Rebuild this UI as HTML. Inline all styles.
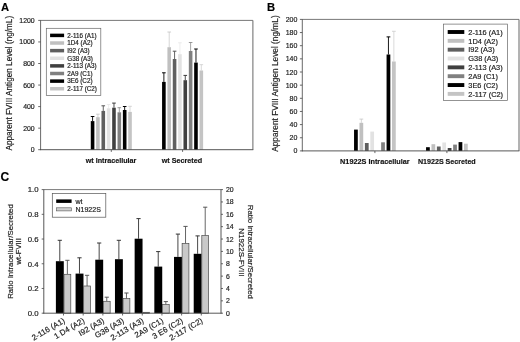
<!DOCTYPE html>
<html lang="en"><head><meta charset="utf-8"><title>Figure</title>
<style>html,body{margin:0;padding:0;background:#fff;}svg{display:block;}text{font-family:'Liberation Sans', Arial, sans-serif;stroke:#222;stroke-width:0.18px;}</style>
</head><body>
<svg width="520" height="342" viewBox="0 0 520 342">
<rect x="0" y="0" width="520" height="342" fill="#ffffff"/>
<defs><filter id="soft" x="0" y="0" width="520" height="342" filterUnits="userSpaceOnUse"><feGaussianBlur stdDeviation="0.25"/></filter></defs>
<g filter="url(#soft)">
<line x1="92.58" y1="116.50" x2="92.58" y2="121.10" stroke="#000000" stroke-width="0.9"/>
<line x1="90.78" y1="116.50" x2="94.38" y2="116.50" stroke="#000000" stroke-width="1.0"/>
<rect x="90.78" y="121.10" width="3.60" height="28.60" fill="#000000"/>
<line x1="97.92" y1="114.20" x2="97.92" y2="117.20" stroke="#c4c4c4" stroke-width="0.7"/>
<line x1="96.12" y1="114.20" x2="99.72" y2="114.20" stroke="#c4c4c4" stroke-width="0.8"/>
<rect x="96.12" y="117.20" width="3.60" height="32.50" fill="#c0c0c0"/>
<line x1="103.28" y1="105.80" x2="103.28" y2="110.90" stroke="#555555" stroke-width="0.9"/>
<line x1="101.48" y1="105.80" x2="105.08" y2="105.80" stroke="#555555" stroke-width="1.0"/>
<rect x="101.48" y="110.90" width="3.60" height="38.80" fill="#5e5e5e"/>
<line x1="108.62" y1="104.50" x2="108.62" y2="108.30" stroke="#e6e6e6" stroke-width="0.7"/>
<line x1="106.83" y1="104.50" x2="110.42" y2="104.50" stroke="#e6e6e6" stroke-width="0.8"/>
<rect x="106.83" y="108.30" width="3.60" height="41.40" fill="#e2e2e2"/>
<line x1="113.97" y1="103.10" x2="113.97" y2="107.70" stroke="#3a3a3a" stroke-width="0.9"/>
<line x1="112.17" y1="103.10" x2="115.77" y2="103.10" stroke="#3a3a3a" stroke-width="1.0"/>
<rect x="112.17" y="107.70" width="3.60" height="42.00" fill="#404040"/>
<line x1="119.32" y1="107.70" x2="119.32" y2="112.30" stroke="#808080" stroke-width="0.7"/>
<line x1="117.52" y1="107.70" x2="121.12" y2="107.70" stroke="#808080" stroke-width="0.8"/>
<rect x="117.52" y="112.30" width="3.60" height="37.40" fill="#808080"/>
<line x1="124.67" y1="106.50" x2="124.67" y2="110.00" stroke="#000000" stroke-width="0.9"/>
<line x1="122.88" y1="106.50" x2="126.47" y2="106.50" stroke="#000000" stroke-width="1.0"/>
<rect x="122.88" y="110.00" width="3.60" height="39.70" fill="#000000"/>
<line x1="130.03" y1="106.30" x2="130.03" y2="111.90" stroke="#cccccc" stroke-width="0.7"/>
<line x1="128.22" y1="106.30" x2="131.83" y2="106.30" stroke="#cccccc" stroke-width="0.8"/>
<rect x="128.22" y="111.90" width="3.60" height="37.80" fill="#c4c4c4"/>
<line x1="163.88" y1="72.80" x2="163.88" y2="81.90" stroke="#000000" stroke-width="0.9"/>
<line x1="162.07" y1="72.80" x2="165.68" y2="72.80" stroke="#000000" stroke-width="1.0"/>
<rect x="162.07" y="81.90" width="3.60" height="67.80" fill="#000000"/>
<line x1="169.22" y1="32.00" x2="169.22" y2="47.20" stroke="#c4c4c4" stroke-width="0.7"/>
<line x1="167.42" y1="32.00" x2="171.03" y2="32.00" stroke="#c4c4c4" stroke-width="0.8"/>
<rect x="167.42" y="47.20" width="3.60" height="102.50" fill="#c0c0c0"/>
<line x1="174.57" y1="51.20" x2="174.57" y2="59.00" stroke="#555555" stroke-width="0.9"/>
<line x1="172.77" y1="51.20" x2="176.38" y2="51.20" stroke="#555555" stroke-width="1.0"/>
<rect x="172.77" y="59.00" width="3.60" height="90.70" fill="#5e5e5e"/>
<line x1="179.92" y1="42.80" x2="179.92" y2="54.20" stroke="#e6e6e6" stroke-width="0.7"/>
<line x1="178.12" y1="42.80" x2="181.72" y2="42.80" stroke="#e6e6e6" stroke-width="0.8"/>
<rect x="178.12" y="54.20" width="3.60" height="95.50" fill="#e2e2e2"/>
<line x1="185.28" y1="75.40" x2="185.28" y2="80.20" stroke="#3a3a3a" stroke-width="0.9"/>
<line x1="183.47" y1="75.40" x2="187.08" y2="75.40" stroke="#3a3a3a" stroke-width="1.0"/>
<rect x="183.47" y="80.20" width="3.60" height="69.50" fill="#404040"/>
<line x1="190.62" y1="42.50" x2="190.62" y2="51.00" stroke="#808080" stroke-width="0.7"/>
<line x1="188.82" y1="42.50" x2="192.43" y2="42.50" stroke="#808080" stroke-width="0.8"/>
<rect x="188.82" y="51.00" width="3.60" height="98.70" fill="#808080"/>
<line x1="195.97" y1="49.00" x2="195.97" y2="62.60" stroke="#000000" stroke-width="0.9"/>
<line x1="194.17" y1="49.00" x2="197.78" y2="49.00" stroke="#000000" stroke-width="1.0"/>
<rect x="194.17" y="62.60" width="3.60" height="87.10" fill="#000000"/>
<line x1="201.32" y1="64.70" x2="201.32" y2="70.50" stroke="#cccccc" stroke-width="0.7"/>
<line x1="199.52" y1="64.70" x2="203.12" y2="64.70" stroke="#cccccc" stroke-width="0.8"/>
<rect x="199.52" y="70.50" width="3.60" height="79.20" fill="#c4c4c4"/>
<line x1="40.60" y1="20.40" x2="252.90" y2="20.40" stroke="#555" stroke-width="0.8"/>
<line x1="252.90" y1="20.40" x2="252.90" y2="149.70" stroke="#666" stroke-width="1.0"/>
<line x1="40.60" y1="20.20" x2="40.60" y2="150.10" stroke="#444" stroke-width="0.8"/>
<line x1="40.20" y1="149.70" x2="253.30" y2="149.70" stroke="#444" stroke-width="0.9"/>
<line x1="38.20" y1="149.70" x2="40.60" y2="149.70" stroke="#444" stroke-width="0.8"/>
<text x="34.70" y="152.18" font-size="6.9" text-anchor="end" fill="#1a1a1a">0</text>
<line x1="38.20" y1="128.15" x2="40.60" y2="128.15" stroke="#444" stroke-width="0.8"/>
<text x="34.70" y="130.63" font-size="6.9" text-anchor="end" fill="#1a1a1a">200</text>
<line x1="38.20" y1="106.60" x2="40.60" y2="106.60" stroke="#444" stroke-width="0.8"/>
<text x="34.70" y="109.08" font-size="6.9" text-anchor="end" fill="#1a1a1a">400</text>
<line x1="38.20" y1="85.05" x2="40.60" y2="85.05" stroke="#444" stroke-width="0.8"/>
<text x="34.70" y="87.53" font-size="6.9" text-anchor="end" fill="#1a1a1a">600</text>
<line x1="38.20" y1="63.50" x2="40.60" y2="63.50" stroke="#444" stroke-width="0.8"/>
<text x="34.70" y="65.98" font-size="6.9" text-anchor="end" fill="#1a1a1a">800</text>
<line x1="38.20" y1="41.95" x2="40.60" y2="41.95" stroke="#444" stroke-width="0.8"/>
<text x="34.70" y="44.43" font-size="6.9" text-anchor="end" fill="#1a1a1a">1000</text>
<line x1="38.20" y1="20.40" x2="40.60" y2="20.40" stroke="#444" stroke-width="0.8"/>
<text x="34.70" y="22.88" font-size="6.9" text-anchor="end" fill="#1a1a1a">1200</text>
<line x1="111.30" y1="149.70" x2="111.30" y2="151.90" stroke="#444" stroke-width="0.8"/>
<line x1="182.60" y1="149.70" x2="182.60" y2="151.90" stroke="#444" stroke-width="0.8"/>
<text x="111.10" y="162.60" font-size="7.6" text-anchor="middle" font-weight="bold" fill="#111" textLength="50.6" lengthAdjust="spacingAndGlyphs">wt Intracellular</text>
<text x="181.90" y="162.60" font-size="7.6" text-anchor="middle" font-weight="bold" fill="#111" textLength="40.4" lengthAdjust="spacingAndGlyphs">wt Secreted</text>
<text transform="translate(12.30 83.20) rotate(-90)" font-size="8.2" text-anchor="middle" fill="#1a1a1a">Apparent FVIII Antigen Level (ng/mL)</text>
<rect x="46.30" y="28.30" width="54.50" height="67.20" fill="#ffffff" stroke="#666" stroke-width="0.7"/>
<rect x="50.10" y="33.65" width="14.00" height="3.50" fill="#000000"/>
<text x="67.30" y="37.67" font-size="6.3" text-anchor="start" fill="#1a1a1a">2-116 (A1)</text>
<rect x="50.10" y="41.27" width="14.00" height="3.50" fill="#c0c0c0"/>
<text x="67.30" y="45.29" font-size="6.3" text-anchor="start" fill="#1a1a1a">1D4 (A2)</text>
<rect x="50.10" y="48.89" width="14.00" height="3.50" fill="#5e5e5e"/>
<text x="67.30" y="52.91" font-size="6.3" text-anchor="start" fill="#1a1a1a">I92 (A3)</text>
<rect x="50.10" y="56.51" width="14.00" height="3.50" fill="#e2e2e2"/>
<text x="67.30" y="60.53" font-size="6.3" text-anchor="start" fill="#1a1a1a">G38 (A3)</text>
<rect x="50.10" y="64.13" width="14.00" height="3.50" fill="#404040"/>
<text x="67.30" y="68.15" font-size="6.3" text-anchor="start" fill="#1a1a1a">2-113 (A3)</text>
<rect x="50.10" y="71.75" width="14.00" height="3.50" fill="#808080"/>
<text x="67.30" y="75.77" font-size="6.3" text-anchor="start" fill="#1a1a1a">2A9 (C1)</text>
<rect x="50.10" y="79.37" width="14.00" height="3.50" fill="#000000"/>
<text x="67.30" y="83.39" font-size="6.3" text-anchor="start" fill="#1a1a1a">3E6 (C2)</text>
<rect x="50.10" y="86.99" width="14.00" height="3.50" fill="#c4c4c4"/>
<text x="67.30" y="91.01" font-size="6.3" text-anchor="start" fill="#1a1a1a">2-117 (C2)</text>
<text x="0.90" y="10.50" font-size="11.2" text-anchor="start" font-weight="bold" fill="#000">A</text>
<rect x="354.05" y="129.60" width="3.75" height="21.30" fill="#000000"/>
<line x1="361.35" y1="119.10" x2="361.35" y2="122.80" stroke="#c4c4c4" stroke-width="0.7"/>
<line x1="359.47" y1="119.10" x2="363.22" y2="119.10" stroke="#c4c4c4" stroke-width="0.8"/>
<rect x="359.47" y="122.80" width="3.75" height="28.10" fill="#c0c0c0"/>
<rect x="364.89" y="143.00" width="3.75" height="7.90" fill="#5e5e5e"/>
<rect x="370.31" y="131.60" width="3.75" height="19.30" fill="#e2e2e2"/>
<rect x="381.15" y="142.30" width="3.75" height="8.60" fill="#808080"/>
<line x1="388.45" y1="36.90" x2="388.45" y2="54.50" stroke="#000000" stroke-width="0.9"/>
<line x1="386.57" y1="36.90" x2="390.32" y2="36.90" stroke="#000000" stroke-width="1.0"/>
<rect x="386.57" y="54.50" width="3.75" height="96.40" fill="#000000"/>
<line x1="393.87" y1="31.30" x2="393.87" y2="61.50" stroke="#cccccc" stroke-width="0.7"/>
<line x1="392.00" y1="31.30" x2="395.75" y2="31.30" stroke="#cccccc" stroke-width="0.8"/>
<rect x="392.00" y="61.50" width="3.75" height="89.40" fill="#c4c4c4"/>
<rect x="426.05" y="147.20" width="3.75" height="3.70" fill="#000000"/>
<rect x="431.47" y="144.20" width="3.75" height="6.70" fill="#c0c0c0"/>
<rect x="436.89" y="146.50" width="3.75" height="4.40" fill="#5e5e5e"/>
<rect x="442.31" y="142.50" width="3.75" height="8.40" fill="#e2e2e2"/>
<rect x="447.73" y="148.00" width="3.75" height="2.90" fill="#404040"/>
<rect x="453.15" y="144.60" width="3.75" height="6.30" fill="#808080"/>
<rect x="458.57" y="142.10" width="3.75" height="8.80" fill="#000000"/>
<rect x="464.00" y="143.70" width="3.75" height="7.20" fill="#c4c4c4"/>
<line x1="302.30" y1="19.40" x2="519.00" y2="19.40" stroke="#555" stroke-width="0.8"/>
<line x1="519.00" y1="19.40" x2="519.00" y2="150.90" stroke="#666" stroke-width="1.0"/>
<line x1="302.30" y1="19.20" x2="302.30" y2="151.30" stroke="#444" stroke-width="0.8"/>
<line x1="301.90" y1="150.90" x2="519.40" y2="150.90" stroke="#444" stroke-width="0.9"/>
<line x1="299.90" y1="150.90" x2="302.30" y2="150.90" stroke="#444" stroke-width="0.8"/>
<text x="297.40" y="153.42" font-size="7.0" text-anchor="end" fill="#1a1a1a">0</text>
<line x1="299.90" y1="137.75" x2="302.30" y2="137.75" stroke="#444" stroke-width="0.8"/>
<text x="297.40" y="140.27" font-size="7.0" text-anchor="end" fill="#1a1a1a">20</text>
<line x1="299.90" y1="124.60" x2="302.30" y2="124.60" stroke="#444" stroke-width="0.8"/>
<text x="297.40" y="127.12" font-size="7.0" text-anchor="end" fill="#1a1a1a">40</text>
<line x1="299.90" y1="111.45" x2="302.30" y2="111.45" stroke="#444" stroke-width="0.8"/>
<text x="297.40" y="113.97" font-size="7.0" text-anchor="end" fill="#1a1a1a">60</text>
<line x1="299.90" y1="98.30" x2="302.30" y2="98.30" stroke="#444" stroke-width="0.8"/>
<text x="297.40" y="100.82" font-size="7.0" text-anchor="end" fill="#1a1a1a">80</text>
<line x1="299.90" y1="85.15" x2="302.30" y2="85.15" stroke="#444" stroke-width="0.8"/>
<text x="297.40" y="87.67" font-size="7.0" text-anchor="end" fill="#1a1a1a">100</text>
<line x1="299.90" y1="72.00" x2="302.30" y2="72.00" stroke="#444" stroke-width="0.8"/>
<text x="297.40" y="74.52" font-size="7.0" text-anchor="end" fill="#1a1a1a">120</text>
<line x1="299.90" y1="58.85" x2="302.30" y2="58.85" stroke="#444" stroke-width="0.8"/>
<text x="297.40" y="61.37" font-size="7.0" text-anchor="end" fill="#1a1a1a">140</text>
<line x1="299.90" y1="45.70" x2="302.30" y2="45.70" stroke="#444" stroke-width="0.8"/>
<text x="297.40" y="48.22" font-size="7.0" text-anchor="end" fill="#1a1a1a">160</text>
<line x1="299.90" y1="32.55" x2="302.30" y2="32.55" stroke="#444" stroke-width="0.8"/>
<text x="297.40" y="35.07" font-size="7.0" text-anchor="end" fill="#1a1a1a">180</text>
<line x1="299.90" y1="19.40" x2="302.30" y2="19.40" stroke="#444" stroke-width="0.8"/>
<text x="297.40" y="21.92" font-size="7.0" text-anchor="end" fill="#1a1a1a">200</text>
<line x1="374.90" y1="150.90" x2="374.90" y2="153.10" stroke="#444" stroke-width="0.8"/>
<line x1="446.90" y1="150.90" x2="446.90" y2="153.10" stroke="#444" stroke-width="0.8"/>
<text x="374.90" y="163.80" font-size="7.9" text-anchor="middle" font-weight="bold" fill="#111" textLength="69.6" lengthAdjust="spacingAndGlyphs">N1922S Intracellular</text>
<text x="446.80" y="163.80" font-size="7.9" text-anchor="middle" font-weight="bold" fill="#111" textLength="57.8" lengthAdjust="spacingAndGlyphs">N1922S Secreted</text>
<text transform="translate(278.20 83.60) rotate(-90)" font-size="8.3" text-anchor="middle" fill="#1a1a1a">Apparent FVIII Antigen Level (ng/mL)</text>
<rect x="443.60" y="24.10" width="63.80" height="76.50" fill="#ffffff" stroke="#666" stroke-width="0.7"/>
<rect x="447.70" y="30.05" width="16.60" height="3.90" fill="#000000"/>
<text x="468.30" y="34.66" font-size="7.4" text-anchor="start" fill="#1a1a1a">2-116 (A1)</text>
<rect x="447.70" y="38.89" width="16.60" height="3.90" fill="#c0c0c0"/>
<text x="468.30" y="43.50" font-size="7.4" text-anchor="start" fill="#1a1a1a">1D4 (A2)</text>
<rect x="447.70" y="47.73" width="16.60" height="3.90" fill="#5e5e5e"/>
<text x="468.30" y="52.34" font-size="7.4" text-anchor="start" fill="#1a1a1a">I92 (A3)</text>
<rect x="447.70" y="56.57" width="16.60" height="3.90" fill="#e2e2e2"/>
<text x="468.30" y="61.18" font-size="7.4" text-anchor="start" fill="#1a1a1a">G38 (A3)</text>
<rect x="447.70" y="65.41" width="16.60" height="3.90" fill="#404040"/>
<text x="468.30" y="70.02" font-size="7.4" text-anchor="start" fill="#1a1a1a">2-113 (A3)</text>
<rect x="447.70" y="74.25" width="16.60" height="3.90" fill="#808080"/>
<text x="468.30" y="78.86" font-size="7.4" text-anchor="start" fill="#1a1a1a">2A9 (C1)</text>
<rect x="447.70" y="83.09" width="16.60" height="3.90" fill="#000000"/>
<text x="468.30" y="87.70" font-size="7.4" text-anchor="start" fill="#1a1a1a">3E6 (C2)</text>
<rect x="447.70" y="91.93" width="16.60" height="3.90" fill="#c4c4c4"/>
<text x="468.30" y="96.54" font-size="7.4" text-anchor="start" fill="#1a1a1a">2-117 (C2)</text>
<text x="267.00" y="10.50" font-size="11.2" text-anchor="start" font-weight="bold" fill="#000">B</text>
<line x1="59.79" y1="240.30" x2="59.79" y2="261.20" stroke="#333" stroke-width="0.9"/>
<line x1="57.69" y1="240.30" x2="61.89" y2="240.30" stroke="#333" stroke-width="1.0"/>
<rect x="55.89" y="261.20" width="7.90" height="52.00" fill="#000"/>
<line x1="67.39" y1="260.30" x2="67.39" y2="274.30" stroke="#555" stroke-width="0.9"/>
<line x1="65.29" y1="260.30" x2="69.49" y2="260.30" stroke="#555" stroke-width="1.0"/>
<rect x="63.99" y="274.30" width="6.80" height="38.90" fill="#c9c9c9" stroke="#4a4a4a" stroke-width="0.7"/>
<line x1="79.48" y1="257.80" x2="79.48" y2="273.60" stroke="#333" stroke-width="0.9"/>
<line x1="77.38" y1="257.80" x2="81.58" y2="257.80" stroke="#333" stroke-width="1.0"/>
<rect x="75.58" y="273.60" width="7.90" height="39.60" fill="#000"/>
<line x1="87.08" y1="275.30" x2="87.08" y2="286.00" stroke="#555" stroke-width="0.9"/>
<line x1="84.98" y1="275.30" x2="89.18" y2="275.30" stroke="#555" stroke-width="1.0"/>
<rect x="83.68" y="286.00" width="6.80" height="27.20" fill="#c9c9c9" stroke="#4a4a4a" stroke-width="0.7"/>
<line x1="99.17" y1="243.00" x2="99.17" y2="259.70" stroke="#333" stroke-width="0.9"/>
<line x1="97.07" y1="243.00" x2="101.27" y2="243.00" stroke="#333" stroke-width="1.0"/>
<rect x="95.27" y="259.70" width="7.90" height="53.50" fill="#000"/>
<line x1="106.77" y1="297.20" x2="106.77" y2="301.30" stroke="#555" stroke-width="0.9"/>
<line x1="104.67" y1="297.20" x2="108.87" y2="297.20" stroke="#555" stroke-width="1.0"/>
<rect x="103.37" y="301.30" width="6.80" height="11.90" fill="#c9c9c9" stroke="#4a4a4a" stroke-width="0.7"/>
<line x1="118.86" y1="240.30" x2="118.86" y2="259.20" stroke="#333" stroke-width="0.9"/>
<line x1="116.76" y1="240.30" x2="120.96" y2="240.30" stroke="#333" stroke-width="1.0"/>
<rect x="114.96" y="259.20" width="7.90" height="54.00" fill="#000"/>
<line x1="126.46" y1="293.00" x2="126.46" y2="298.60" stroke="#555" stroke-width="0.9"/>
<line x1="124.36" y1="293.00" x2="128.56" y2="293.00" stroke="#555" stroke-width="1.0"/>
<rect x="123.06" y="298.60" width="6.80" height="14.60" fill="#c9c9c9" stroke="#4a4a4a" stroke-width="0.7"/>
<line x1="138.54" y1="218.60" x2="138.54" y2="238.70" stroke="#333" stroke-width="0.9"/>
<line x1="136.44" y1="218.60" x2="140.64" y2="218.60" stroke="#333" stroke-width="1.0"/>
<rect x="134.64" y="238.70" width="7.90" height="74.50" fill="#000"/>
<rect x="142.74" y="312.30" width="6.80" height="0.90" fill="#c9c9c9" stroke="#4a4a4a" stroke-width="0.7"/>
<line x1="158.23" y1="251.60" x2="158.23" y2="266.60" stroke="#333" stroke-width="0.9"/>
<line x1="156.13" y1="251.60" x2="160.33" y2="251.60" stroke="#333" stroke-width="1.0"/>
<rect x="154.33" y="266.60" width="7.90" height="46.60" fill="#000"/>
<line x1="165.83" y1="301.60" x2="165.83" y2="304.50" stroke="#555" stroke-width="0.9"/>
<line x1="163.73" y1="301.60" x2="167.93" y2="301.60" stroke="#555" stroke-width="1.0"/>
<rect x="162.43" y="304.50" width="6.80" height="8.70" fill="#c9c9c9" stroke="#4a4a4a" stroke-width="0.7"/>
<line x1="177.92" y1="234.10" x2="177.92" y2="256.90" stroke="#333" stroke-width="0.9"/>
<line x1="175.82" y1="234.10" x2="180.02" y2="234.10" stroke="#333" stroke-width="1.0"/>
<rect x="174.02" y="256.90" width="7.90" height="56.30" fill="#000"/>
<line x1="185.52" y1="226.40" x2="185.52" y2="243.50" stroke="#555" stroke-width="0.9"/>
<line x1="183.42" y1="226.40" x2="187.62" y2="226.40" stroke="#555" stroke-width="1.0"/>
<rect x="182.12" y="243.50" width="6.80" height="69.70" fill="#c9c9c9" stroke="#4a4a4a" stroke-width="0.7"/>
<line x1="197.61" y1="235.90" x2="197.61" y2="253.80" stroke="#333" stroke-width="0.9"/>
<line x1="195.51" y1="235.90" x2="199.71" y2="235.90" stroke="#333" stroke-width="1.0"/>
<rect x="193.71" y="253.80" width="7.90" height="59.40" fill="#000"/>
<line x1="205.21" y1="207.20" x2="205.21" y2="235.60" stroke="#555" stroke-width="0.9"/>
<line x1="203.11" y1="207.20" x2="207.31" y2="207.20" stroke="#555" stroke-width="1.0"/>
<rect x="201.81" y="235.60" width="6.80" height="77.60" fill="#c9c9c9" stroke="#4a4a4a" stroke-width="0.7"/>
<line x1="43.80" y1="189.60" x2="221.00" y2="189.60" stroke="#555" stroke-width="0.8"/>
<line x1="221.00" y1="189.40" x2="221.00" y2="313.60" stroke="#444" stroke-width="0.9"/>
<line x1="43.80" y1="189.40" x2="43.80" y2="313.60" stroke="#444" stroke-width="0.9"/>
<line x1="43.40" y1="313.20" x2="221.40" y2="313.20" stroke="#444" stroke-width="0.9"/>
<line x1="41.70" y1="313.20" x2="43.80" y2="313.20" stroke="#444" stroke-width="0.8"/>
<text x="38.50" y="316.01" font-size="7.8" text-anchor="end" fill="#1a1a1a">0.0</text>
<line x1="41.70" y1="288.48" x2="43.80" y2="288.48" stroke="#444" stroke-width="0.8"/>
<text x="38.50" y="291.29" font-size="7.8" text-anchor="end" fill="#1a1a1a">0.2</text>
<line x1="41.70" y1="263.76" x2="43.80" y2="263.76" stroke="#444" stroke-width="0.8"/>
<text x="38.50" y="266.57" font-size="7.8" text-anchor="end" fill="#1a1a1a">0.4</text>
<line x1="41.70" y1="239.04" x2="43.80" y2="239.04" stroke="#444" stroke-width="0.8"/>
<text x="38.50" y="241.85" font-size="7.8" text-anchor="end" fill="#1a1a1a">0.6</text>
<line x1="41.70" y1="214.32" x2="43.80" y2="214.32" stroke="#444" stroke-width="0.8"/>
<text x="38.50" y="217.13" font-size="7.8" text-anchor="end" fill="#1a1a1a">0.8</text>
<line x1="41.70" y1="189.60" x2="43.80" y2="189.60" stroke="#444" stroke-width="0.8"/>
<text x="38.50" y="192.41" font-size="7.8" text-anchor="end" fill="#1a1a1a">1.0</text>
<line x1="221.00" y1="313.20" x2="223.00" y2="313.20" stroke="#444" stroke-width="0.8"/>
<text x="225.90" y="315.68" font-size="6.9" text-anchor="start" fill="#1a1a1a">0</text>
<line x1="221.00" y1="300.84" x2="223.00" y2="300.84" stroke="#444" stroke-width="0.8"/>
<text x="225.90" y="303.32" font-size="6.9" text-anchor="start" fill="#1a1a1a">2</text>
<line x1="221.00" y1="288.48" x2="223.00" y2="288.48" stroke="#444" stroke-width="0.8"/>
<text x="225.90" y="290.96" font-size="6.9" text-anchor="start" fill="#1a1a1a">4</text>
<line x1="221.00" y1="276.12" x2="223.00" y2="276.12" stroke="#444" stroke-width="0.8"/>
<text x="225.90" y="278.60" font-size="6.9" text-anchor="start" fill="#1a1a1a">6</text>
<line x1="221.00" y1="263.76" x2="223.00" y2="263.76" stroke="#444" stroke-width="0.8"/>
<text x="225.90" y="266.24" font-size="6.9" text-anchor="start" fill="#1a1a1a">8</text>
<line x1="221.00" y1="251.40" x2="223.00" y2="251.40" stroke="#444" stroke-width="0.8"/>
<text x="225.90" y="253.88" font-size="6.9" text-anchor="start" fill="#1a1a1a">10</text>
<line x1="221.00" y1="239.04" x2="223.00" y2="239.04" stroke="#444" stroke-width="0.8"/>
<text x="225.90" y="241.52" font-size="6.9" text-anchor="start" fill="#1a1a1a">12</text>
<line x1="221.00" y1="226.68" x2="223.00" y2="226.68" stroke="#444" stroke-width="0.8"/>
<text x="225.90" y="229.16" font-size="6.9" text-anchor="start" fill="#1a1a1a">14</text>
<line x1="221.00" y1="214.32" x2="223.00" y2="214.32" stroke="#444" stroke-width="0.8"/>
<text x="225.90" y="216.80" font-size="6.9" text-anchor="start" fill="#1a1a1a">16</text>
<line x1="221.00" y1="201.96" x2="223.00" y2="201.96" stroke="#444" stroke-width="0.8"/>
<text x="225.90" y="204.44" font-size="6.9" text-anchor="start" fill="#1a1a1a">18</text>
<line x1="221.00" y1="189.60" x2="223.00" y2="189.60" stroke="#444" stroke-width="0.8"/>
<text x="225.90" y="192.08" font-size="6.9" text-anchor="start" fill="#1a1a1a">20</text>
<line x1="63.49" y1="313.20" x2="63.49" y2="315.50" stroke="#444" stroke-width="0.8"/>
<text transform="translate(65.49 322.30) rotate(-30)" font-size="7.9" text-anchor="end" fill="#1a1a1a">2-116 (A1)</text>
<line x1="83.18" y1="313.20" x2="83.18" y2="315.50" stroke="#444" stroke-width="0.8"/>
<text transform="translate(85.18 322.30) rotate(-30)" font-size="7.9" text-anchor="end" fill="#1a1a1a">1 D4 (A2)</text>
<line x1="102.87" y1="313.20" x2="102.87" y2="315.50" stroke="#444" stroke-width="0.8"/>
<text transform="translate(104.87 322.30) rotate(-30)" font-size="7.9" text-anchor="end" fill="#1a1a1a">I92 (A3)</text>
<line x1="122.56" y1="313.20" x2="122.56" y2="315.50" stroke="#444" stroke-width="0.8"/>
<text transform="translate(124.56 322.30) rotate(-30)" font-size="7.9" text-anchor="end" fill="#1a1a1a">G38 (A3)</text>
<line x1="142.24" y1="313.20" x2="142.24" y2="315.50" stroke="#444" stroke-width="0.8"/>
<text transform="translate(144.24 322.30) rotate(-30)" font-size="7.9" text-anchor="end" fill="#1a1a1a">2-113 (A3)</text>
<line x1="161.93" y1="313.20" x2="161.93" y2="315.50" stroke="#444" stroke-width="0.8"/>
<text transform="translate(163.93 322.30) rotate(-30)" font-size="7.9" text-anchor="end" fill="#1a1a1a">2A9 (C1)</text>
<line x1="181.62" y1="313.20" x2="181.62" y2="315.50" stroke="#444" stroke-width="0.8"/>
<text transform="translate(183.62 322.30) rotate(-30)" font-size="7.9" text-anchor="end" fill="#1a1a1a">3 E6 (C2)</text>
<line x1="201.31" y1="313.20" x2="201.31" y2="315.50" stroke="#444" stroke-width="0.8"/>
<text transform="translate(203.31 322.30) rotate(-30)" font-size="7.9" text-anchor="end" fill="#1a1a1a">2-117 (C2)</text>
<text transform="translate(12.90 251.50) rotate(-90)" font-size="7.85" text-anchor="middle" fill="#1a1a1a">Ratio Intracellular/Secreted</text>
<text transform="translate(20.60 251.30) rotate(-90)" font-size="7.6" text-anchor="middle" fill="#1a1a1a">wt-FVIII</text>
<text transform="translate(248.20 251.80) rotate(90)" font-size="7.8" text-anchor="middle" fill="#1a1a1a">Ratio Intracellular/Secreted</text>
<text transform="translate(239.30 252.40) rotate(90)" font-size="8.0" text-anchor="middle" fill="#1a1a1a">N1922S-FVIII</text>
<rect x="52.30" y="193.60" width="53.50" height="23.60" fill="#fff" stroke="#555" stroke-width="0.7"/>
<rect x="56.20" y="199.40" width="15.40" height="3.50" fill="#000"/>
<rect x="56.50" y="207.80" width="14.80" height="3.10" fill="#cfcfcf" stroke="#555" stroke-width="0.6"/>
<text x="75.50" y="203.60" font-size="7.0" text-anchor="start" fill="#1a1a1a">wt</text>
<text x="75.50" y="211.90" font-size="7.0" text-anchor="start" fill="#1a1a1a">N1922S</text>
<text x="0.60" y="180.90" font-size="12.0" text-anchor="start" font-weight="bold" fill="#000">C</text>
</g>
</svg></body></html>
